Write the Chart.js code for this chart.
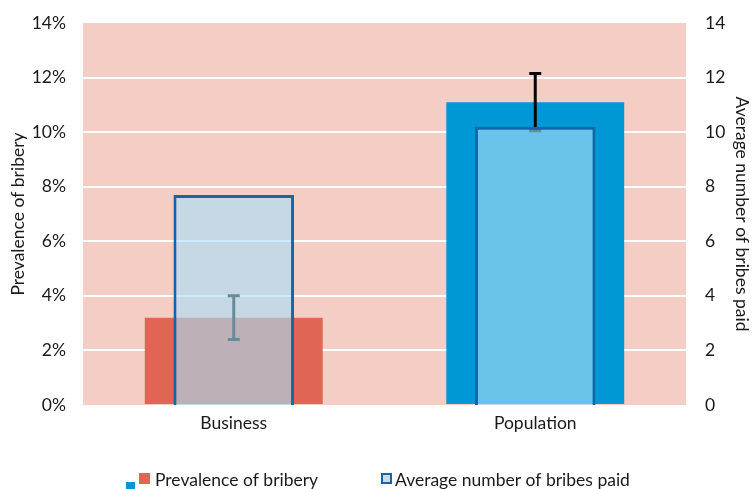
<!DOCTYPE html>
<html>
<head>
<meta charset="utf-8">
<script src="https://cdn.jsdelivr.net/npm/chart.js@4.4.1/dist/chart.umd.min.js"></script>
<style>
  html, body { margin: 0; padding: 0; background: #fff; }
  #wrap { width: 752px; height: 489px; }
</style>
</head>
<body>
<div id="wrap"><canvas id="bribeChart"></canvas></div>
<script>
const categories = ["Business", "Population"];
const prevalence = [3.2, 11.1];
const prevalenceLow = [2.4, 10.05];
const prevalenceHigh = [4.0, 12.15];
const avgBribes = [7.7, 10.2];

const FONT = "Lato, 'Open Sans', sans-serif";
const FS = 17.5;
const barColors = ["#e06555", "#0097d6"];

// pink plot background + error bars drawn between the two datasets
const chartDecor = {
  id: "chartDecor",
  beforeDraw(chart) {
    const { ctx, chartArea: a } = chart;
    ctx.save();
    ctx.fillStyle = "#f4cdc4";
    ctx.fillRect(a.left, a.top, a.right - a.left, a.bottom - a.top);
    ctx.restore();
  },
  afterDatasetDraw(chart, args) {
    if (args.index !== 0) return;
    const { ctx } = chart;
    const x = chart.scales.x, y = chart.scales.y;
    ctx.save();
    ctx.strokeStyle = "#000";
    ctx.lineWidth = 3;
    categories.forEach((c, i) => {
      const cx = x.getPixelForValue(i);
      const yl = y.getPixelForValue(prevalenceLow[i]);
      const yh = y.getPixelForValue(prevalenceHigh[i]);
      ctx.beginPath();
      ctx.moveTo(cx, yl); ctx.lineTo(cx, yh);
      ctx.moveTo(cx - 6, yl); ctx.lineTo(cx + 6, yl);
      ctx.moveTo(cx - 6, yh); ctx.lineTo(cx + 6, yh);
      ctx.stroke();
    });
    ctx.restore();
  },
  afterDraw(chart) {
    const { ctx } = chart;
    ctx.save();
    ctx.fillStyle = "#0097d6";
    ctx.fillRect(126, 482, 9, 9);
    ctx.fillStyle = "#e06555";
    ctx.fillRect(139, 473, 11, 11);
    ctx.fillStyle = "#c9dbe6";
    ctx.fillRect(381, 473, 11, 11);
    ctx.strokeStyle = "#1565a8";
    ctx.lineWidth = 2;
    ctx.strokeRect(382, 474, 9, 9);
    ctx.fillStyle = "#1a1a1a";
    ctx.font = FS + "px " + FONT;
    ctx.textBaseline = "middle";
    ctx.fillText("Prevalence of bribery", 155, 480);
    ctx.fillText("Average number of bribes paid", 395, 480);
    ctx.restore();
  }
};

function fixWidth(w) {
  return s => { s.width = w; s.paddingTop = 0; s.paddingBottom = 0; };
}

new Chart(document.getElementById("bribeChart"), {
  type: "bar",
  data: {
    labels: categories,
    datasets: [
      {
        label: "Prevalence of bribery",
        data: prevalence,
        backgroundColor: barColors,
        yAxisID: "y",
        barPercentage: 0.59,
        categoryPercentage: 1,
        grouped: false,
        order: 1
      },
      {
        label: "Average number of bribes paid",
        data: avgBribes,
        backgroundColor: "rgba(170,222,247,0.62)",
        borderColor: "#1565a8",
        borderWidth: 3,
        yAxisID: "y2",
        barPercentage: 0.4,
        categoryPercentage: 1,
        grouped: false,
        order: 0
      }
    ]
  },
  options: {
    responsive: true,
    maintainAspectRatio: false,
    animation: false,
    layout: { padding: { top: 23, left: 0, right: 0, bottom: 0 } },
    plugins: { legend: { display: false }, tooltip: { enabled: false } },
    scales: {
      x: {
        grid: { display: false },
        border: { display: false },
        ticks: { color: "#1a1a1a", font: { family: FONT, size: FS }, padding: 0 },
        afterFit: s => { s.height = 84; }
      },
      y: {
        position: "left",
        min: 0, max: 14,
        ticks: { stepSize: 2, callback: v => v + "%", color: "#1a1a1a", font: { family: FONT, size: FS }, padding: 17 },
        grid: {
          drawTicks: false,
          lineWidth: 2,
          color: c => (c.tick.value === 0 || c.tick.value === 14) ? "rgba(0,0,0,0)" : "#ffffff"
        },
        border: { display: false },
        title: { display: true, text: "Prevalence of bribery", color: "#1a1a1a", font: { family: FONT, size: FS }, padding: { top: 8, bottom: 0 } },
        afterFit: fixWidth(83)
      },
      y2: {
        position: "right",
        min: 0, max: 14,
        ticks: { stepSize: 2, color: "#1a1a1a", font: { family: FONT, size: FS }, padding: 19 },
        grid: { display: false, drawTicks: false },
        border: { display: false },
        title: { display: true, text: "Average number of bribes paid", color: "#1a1a1a", font: { family: FONT, size: FS }, padding: 0 },
        afterFit: fixWidth(66)
      }
    }
  },
  plugins: [chartDecor]
});
</script>
</body>
</html>
